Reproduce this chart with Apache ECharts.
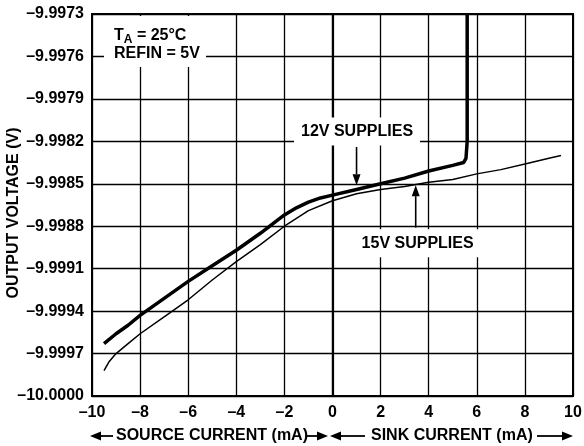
<!DOCTYPE html>
<html><head><meta charset="utf-8">
<script src="https://cdn.jsdelivr.net/npm/echarts@6/dist/echarts.min.js"></script>
<style>html,body{margin:0;padding:0;background:#fff}#c{width:584px;height:446px}</style>
</head><body><div id="c"></div>
<script>
// ---- data ----
const current12 = [-9.5, -9.0, -8.5, -8.0, -7.0, -6.0, -5.0, -4.0, -3.0, -2.0, -1.5, -1.0, -0.5, 0.0, 1.0, 2.0, 3.0, 4.0, 5.0, 5.45, 5.55, 5.6, 5.6];
const volts12   = [-9.99963, -9.99956, -9.99950, -9.99943, -9.99931, -9.99919, -9.99908, -9.99897, -9.99885, -9.99872, -9.99867, -9.99863, -9.99860, -9.99858, -9.99854, -9.99850, -9.99846, -9.99841, -9.99837, -9.99835, -9.99832, -9.99820, -9.99730];
const current15 = [-9.5, -9.3, -9.0, -8.5, -8.0, -7.0, -6.0, -5.0, -4.0, -3.0, -2.0, -1.0, 0.0, 1.0, 2.0, 3.0, 4.0, 5.0, 6.0, 7.0, 8.0, 9.0, 9.5];
const volts15   = [-9.99982, -9.99976, -9.99970, -9.99963, -9.99956, -9.99944, -9.99932, -9.99918, -9.99905, -9.99893, -9.99880, -9.99869, -9.99862, -9.99857, -9.99854, -9.99852, -9.99849, -9.99847, -9.99843, -9.99840, -9.99836, -9.99832, -9.99830];
const yMinV = -10.0000, yMaxV = -9.9973, yStepV = 0.0003;
const xMin = -10, xMax = 10, xStep = 2;
const label12 = '12V SUPPLIES', label15 = '15V SUPPLIES';
const xName1 = 'SOURCE CURRENT (mA)', xName2 = 'SINK CURRENT (mA)';
const yName = 'OUTPUT VOLTAGE (V)';

// offset from axis minimum in units of 1e-4 V (keeps ticks exact)
const toOff = v => Math.round((v - yMinV) * 1e6) / 100;
const FONT = '"Liberation Sans", Arial, Helvetica, sans-serif';
const FS = 16;
const fmtNeg = s => s.replace('-', '\u2013');

const chart = echarts.init(document.getElementById('c'), null, {renderer: 'canvas'});
const option = {
  backgroundColor: '#fff',
  animation: false,
  grid: {left: 92, right: 11, top: 14, bottom: 50, show: true, borderColor: '#000', borderWidth: 2,
    backgroundColor: 'transparent', containLabel: false, outerBoundsMode: 'none'},
  xAxis: {
    type: 'value', min: xMin, max: xMax, interval: xStep,
    axisLine: {show: false}, axisTick: {show: false},
    splitLine: {show: true, lineStyle: {color: '#000', width: 1.3}},
    axisLabel: {margin: 9, color: '#000', fontFamily: FONT, fontWeight: 'bold', fontSize: FS,
      formatter: v => fmtNeg(String(v))}
  },
  yAxis: {
    type: 'value', min: 0, max: toOff(yMaxV), interval: toOff(yMinV + yStepV),
    axisLine: {show: false}, axisTick: {show: false},
    splitLine: {show: true, lineStyle: {color: '#000', width: 1.3}},
    axisLabel: {margin: 8, color: '#000', fontFamily: FONT, fontWeight: 'bold', fontSize: FS,
      formatter: v => fmtNeg((yMinV + v / 1e4).toFixed(4))}
  },
  series: [
    {
      type: 'line', name: '15V', showSymbol: false, symbol: 'none',
      data: current15.map((x, i) => [x, toOff(volts15[i])]),
      lineStyle: {color: '#000', width: 1.5}, z: 3,
      markLine: {silent: true, symbol: ['none', 'none'], label: {show: false},
        lineStyle: {color: '#000', width: 2.2, type: 'solid'}, data: [{xAxis: 0}]}
    },
    {
      type: 'line', name: '12V', showSymbol: false, symbol: 'none',
      data: current12.map((x, i) => [x, toOff(volts12[i])]),
      lineStyle: {color: '#000', width: 3.5}, z: 4
    }
  ]
};
chart.setOption(option);

// annotations anchored to data coordinates
const px = (x, v) => chart.convertToPixel({gridIndex: 0}, [x, toOff(v)]);
function vArrow(x, v0, v1) {
  const a = px(x, v0), b = px(x, v1);
  const dir = b[1] > a[1] ? 1 : -1;
  const headLen = 11, headW = 4;
  return [
    {type: 'line', shape: {x1: a[0], y1: a[1], x2: b[0], y2: b[1] - dir * headLen}, style: {stroke: '#000', lineWidth: 1.6}, z: 20},
    {type: 'polygon', shape: {points: [[b[0], b[1]], [b[0] - headW, b[1] - dir * headLen], [b[0] + headW, b[1] - dir * headLen]]}, style: {fill: '#000'}, z: 20}
  ];
}
function hArrow(x0, x1, y) {
  const dir = x1 > x0 ? 1 : -1;
  const headLen = 11, headW = 4.5;
  return [
    {type: 'line', shape: {x1: x0, y1: y, x2: x1 - dir * headLen, y2: y}, style: {stroke: '#000', lineWidth: 1.8}},
    {type: 'polygon', shape: {points: [[x1, y], [x1 - dir * headLen, y - headW], [x1 - dir * headLen, y + headW]]}, style: {fill: '#000'}}
  ];
}
const t12 = px(1.02, -9.99813), t15 = px(3.54, -9.99892);
const F = 'bold ' + FS + 'px ' + FONT;
const textStyle = {font: F, fill: '#000', align: 'center', verticalAlign: 'middle', backgroundColor: '#fff', padding: [6, 7, 6, 7]};
const graphic = [].concat(
  vArrow(1.0, -9.99824, -9.99851),
  vArrow(3.46, -9.99881, -9.99851),
  [
    {type: 'text', x: t12[0], y: t12[1], z: 19, style: Object.assign({text: label12}, textStyle)},
    {type: 'text', x: t15[0], y: t15[1], z: 19, style: Object.assign({text: label15}, textStyle)},
    {type: 'rect', shape: {x: 104, y: 16, width: 102, height: 51}, style: {fill: '#fff'}, z: 18},
    {type: 'text', x: 114, y: 36, z: 19, style: {
      text: '{t|T}{s|A}{t| = 25°C}', verticalAlign: 'middle', align: 'left',
      rich: {t: {font: F, fill: '#000'}, s: {font: 'bold 12px ' + FONT, fill: '#000', padding: [8, 0, 0, 0]}}}},
    {type: 'text', x: 114, y: 54, z: 19, style: {text: 'REFIN = 5V', font: F, fill: '#000', align: 'left', verticalAlign: 'middle'}},
    {type: 'text', x: 14, y: 213, rotation: Math.PI / 2, style: {text: yName, font: F, fill: '#000', align: 'center', verticalAlign: 'middle'}},
    {type: 'text', x: 116, y: 436, style: {text: xName1, font: F, fill: '#000', align: 'left', verticalAlign: 'middle'}},
    {type: 'text', x: 371, y: 436, style: {text: xName2, font: F, fill: '#000', align: 'left', verticalAlign: 'middle'}}
  ],
  hArrow(113, 90, 436),
  hArrow(307, 328, 436),
  hArrow(365, 330, 436),
  hArrow(537, 573, 436)
);
chart.setOption({graphic: graphic});
</script></body></html>
